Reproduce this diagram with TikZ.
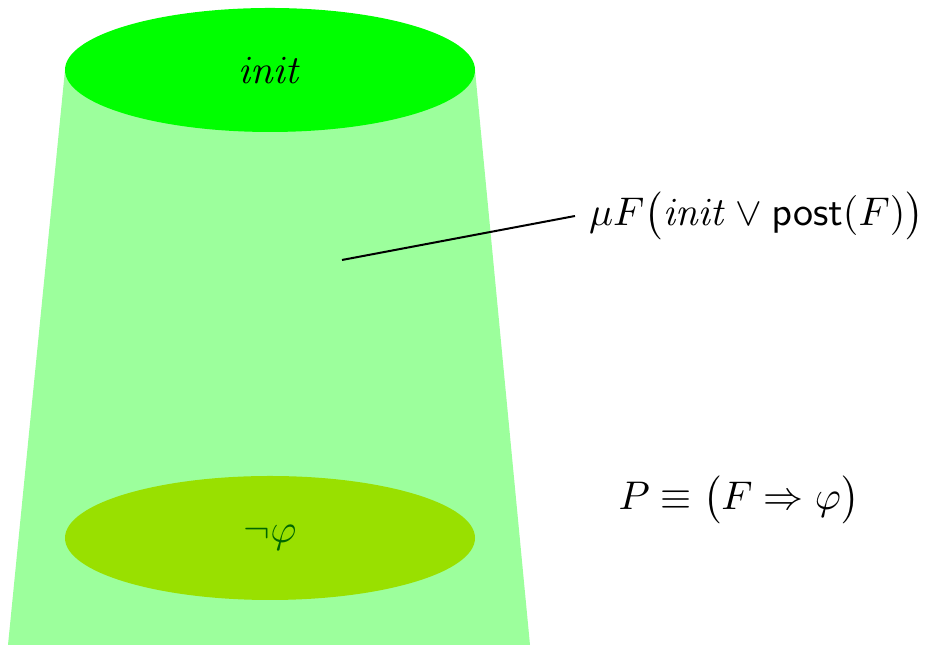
\documentclass[tikz,border=0pt]{standalone}
\usepackage{amsmath,amssymb}
\usepackage{tikz}
\usetikzlibrary{shapes.geometric}
\definecolor{InitGreen}{HTML}{00FF00}
\definecolor{ReachGreen}{HTML}{9CFF9C}
\definecolor{BadGreen}{HTML}{99E000}
\definecolor{BadText}{HTML}{006600}

\begin{document}
\begin{tikzpicture}[x=0.25pt, y=-0.25pt,
  lid/.style={ellipse, minimum width=102.5pt, minimum height=31pt, inner sep=0pt},
  ln/.style={black, line width=0.5pt}]
\useasboundingbox (0,0) rectangle (930,648);
\fill[ReachGreen] (65,70) -- (475,70) -- (530,645) -- (8,645) -- cycle;
\node[lid, fill=InitGreen] (init) at (270,70) {$\mathit{init}$};
\node[lid, fill=BadGreen, text=BadText] (bad) at (270,538) {$\neg\varphi$};
\coordinate (inside) at (342,260);
\node[anchor=west] (lfp) at (575,216) {$\mu F\bigl(\mathit{init}\vee\mathsf{post}(F)\bigr)$};
\draw[ln] (inside) -- (lfp.west);
\node (prop) at (739,500) {$P\equiv\bigl(F\Rightarrow\varphi\bigr)$};
\end{tikzpicture}
\end{document}
